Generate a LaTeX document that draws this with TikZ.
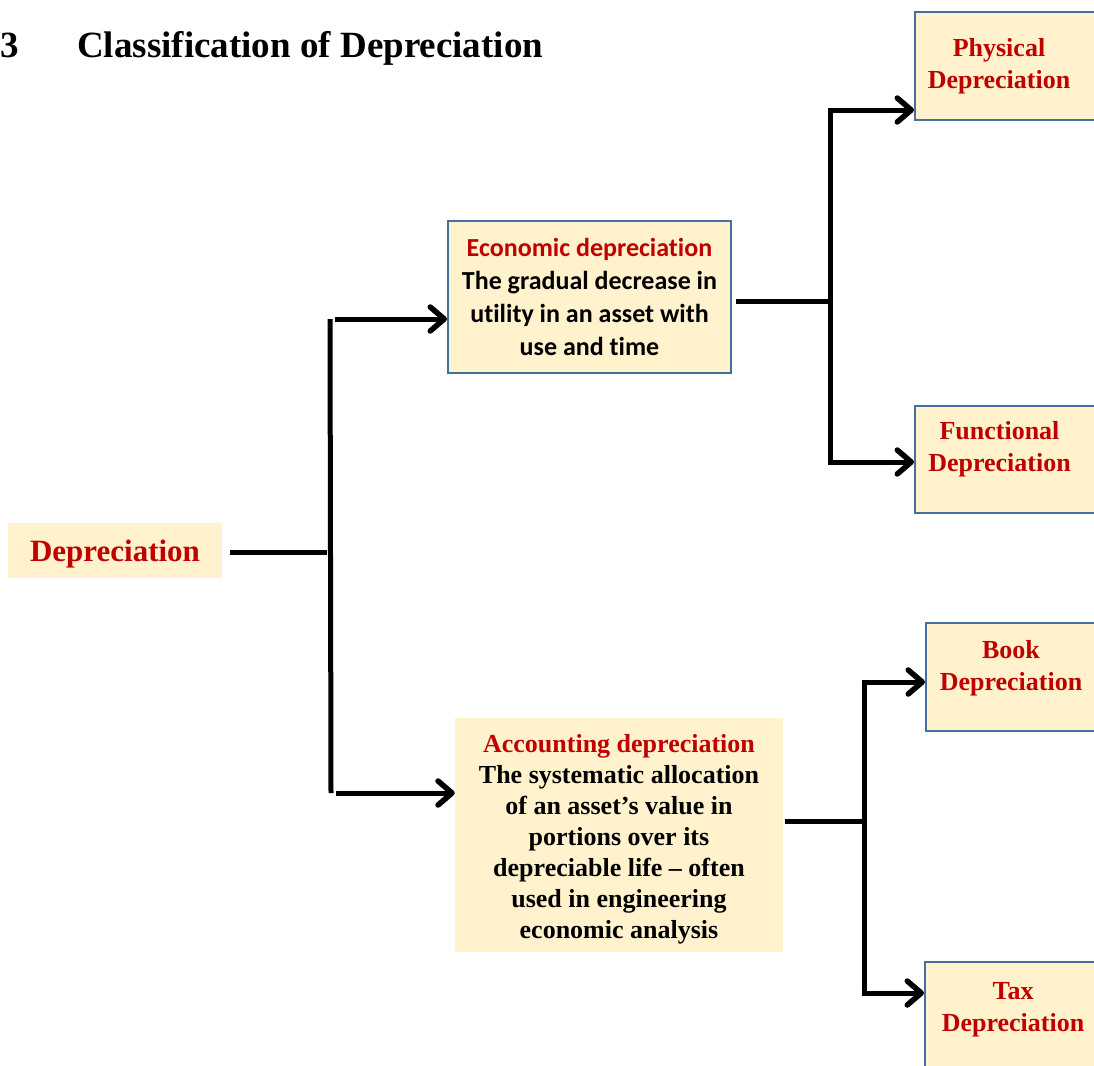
\documentclass[tikz,border=0pt]{standalone}
\usepackage{fontspec}
\setmainfont{Liberation Serif}
\newfontfamily\calfont[Ligatures={NoCommon}]{Carlito}
\usetikzlibrary{arrows.meta}
\definecolor{dred}{HTML}{C00000}
\definecolor{cream}{HTML}{FFF2CC}
\definecolor{bord}{HTML}{41719C}
\begin{document}
\begin{tikzpicture}[x=1pt,y=-1pt,
  box/.style={draw=bord, line width=2pt, fill=cream, inner sep=0pt},
  plainbox/.style={fill=cream, inner sep=0pt},
  redtxt/.style={text=dred, font=\bfseries\fontsize{26}{32}\selectfont, align=center, inner sep=0pt},
  conn/.style={line width=5pt},
  arr/.style={line width=5pt,
    -{Straight Barb[length=14pt,width=24pt,line width=5.5pt,round]}},
  ttlfont/.style={font=\bfseries\fontsize{37}{40}\selectfont, inner sep=0pt, anchor=base west}]
\clip (0,0) rectangle (1094,1065);
\fill[white] (0,0) rectangle (1094,1065);

% title
\node[ttlfont] (num) at (0,57) {3};
\node[ttlfont] (title) at (77,57) {Classification of Depreciation};

% main node
\node[plainbox, minimum width=214pt, minimum height=55pt, text=dred, text depth=0pt,
      font=\bfseries\fontsize{31}{36}\selectfont] (dep) at (115,550.5) {Depreciation};

% second level
\node[box, minimum width=283pt, minimum height=152pt, align=center,
      font=\calfont\bfseries\fontsize{26}{33}\selectfont] (eco) at (589.5,297)
  {{\color{dred}Economic depreciation}\\The gradual decrease in\\utility in an asset with\\use and time};
\node[plainbox, minimum width=328pt, minimum height=234pt] (acc) at (619,835) {};
\node[align=center, inner sep=0pt,
      font=\bfseries\fontsize{26}{31}\selectfont] (accT) at (619,839)
  {{\color{dred}Accounting depreciation}\\The systematic allocation\\of an asset’s value in\\portions over its\\depreciable life – often\\used in engineering\\economic analysis};

% third level boxes
\node[box, minimum width=195pt, minimum height=108pt] (phys) at (1012.5,66) {};
\node[box, minimum width=195pt, minimum height=107pt] (func) at (1012.5,459.5) {};
\node[box, minimum width=184pt, minimum height=108pt] (book) at (1018,677) {};
\node[box, minimum width=185pt, minimum height=113pt] (tax) at (1017.5,1018.5) {};
\node[redtxt] (physT) at (999,66) {Physical\\Depreciation};
\node[redtxt] (funcT) at (999.5,449) {Functional\\Depreciation};
\node[redtxt] (bookT) at (1011,668) {Book\\Depreciation};
\node[redtxt] (taxT) at (1013,1010) {Tax\\Depreciation};

% connectors: level 1
\coordinate (t1top) at (330,319);
\coordinate (t1bot) at (331,793);
\coordinate (t1mid) at (327,552);
\draw[conn] (dep.east |- t1mid) ++(8,0) -- (t1mid);
\draw[conn] (t1top) -- (t1bot);
\draw[arr] (t1top) ++(5,0) -- (t1top -| eco.west);
\draw[arr] (t1bot) ++(5,0) -- (t1bot -| acc.west);

% level 2 top
\coordinate (t2top) at (830,110);
\coordinate (t2bot) at (830,462);
\coordinate (t2mid) at (828,301);
\draw[conn] (eco.east |- t2mid) ++(4,0) -- (t2mid);
\draw[conn] (t2top) -- (t2bot);
\draw[arr] (t2top) ++(-2.5,0) -- (t2top -| phys.west);
\draw[arr] (t2bot) ++(-2.5,0) -- (t2bot -| func.west);

% level 2 bottom
\coordinate (t3top) at (864,682);
\coordinate (t3bot) at (864,993);
\coordinate (t3mid) at (862,821);
\draw[conn] (acc.east |- t3mid) ++(2,0) -- (t3mid);
\draw[conn] (t3top) -- (t3bot);
\draw[arr] (t3top) ++(-2.5,0) -- (t3top -| book.west);
\draw[arr] (t3bot) ++(-2.5,0) -- (t3bot -| tax.west);
\end{tikzpicture}
\end{document}
